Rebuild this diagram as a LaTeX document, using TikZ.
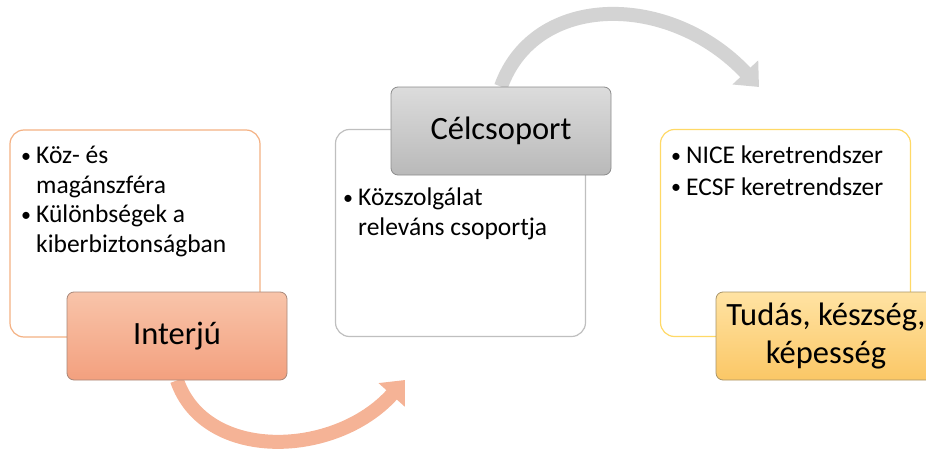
\documentclass[tikz,border=0pt]{standalone}
\usepackage{fontspec}
\setmainfont{Carlito}
\usepackage{xcolor}
\usepackage{tikz}
\usetikzlibrary{arrows.meta,positioning,backgrounds}

\definecolor{orangeline}{HTML}{F4B183}
\definecolor{grayline}{HTML}{BFBFBF}
\definecolor{yellowline}{HTML}{FFD966}
\definecolor{salmontop}{HTML}{F8C4AA}
\definecolor{salmonbot}{HTML}{F3A07E}
\definecolor{salmonedge}{HTML}{A8887A}
\definecolor{graytop}{HTML}{DCDCDC}
\definecolor{graybot}{HTML}{B9B9B9}
\definecolor{grayedge}{HTML}{8C8C8C}
\definecolor{goldtop}{HTML}{FFE3A3}
\definecolor{goldbot}{HTML}{FBC766}
\definecolor{goldedge}{HTML}{A89468}
\definecolor{orangearrow}{HTML}{F5B396}
\definecolor{grayarrow}{HTML}{D3D3D3}

\newcommand{\bul}{\makebox[16pt][l]{\hspace{1pt}\raisebox{1.5pt}{\fontsize{20}{20}\selectfont\textbullet}}}
\newcommand{\ind}{\hspace*{16pt}}

\begin{document}
\begin{tikzpicture}[x=1pt, y=-1pt,
  listbox/.style={draw, rounded corners=14pt, line width=1.2pt, fill=white,
    minimum width=250pt, minimum height=207pt, inner sep=0pt},
  titlebox/.style={rounded corners=7pt, line width=0.8pt, minimum width=220pt,
    minimum height=88pt, font=\fontsize{32.5}{38}\selectfont, align=center},
  listtext/.style={anchor=north west, inner sep=0pt, align=left,
    font=\fontsize{25.5}{29.5}\selectfont},
  bigarrow/.style={line width=14pt, -{Triangle[width=34pt,length=20pt]}}
]
\useasboundingbox (0,0) rectangle (926,452);
\clip (0,0) rectangle (926,452);

% Content boxes
\node[listbox, draw=orangeline] (interviewbox) at (135,233.5) {};
\node[listbox, draw=grayline] (groupbox) at (460.5,233) {};
\node[listbox, draw=yellowline] (skillbox) at (785.5,233) {};

% Bullet lists
\node[listtext] (interviewtext) at (20,146) {\bul Köz- és\\ \ind magánszféra\\ \bul Különbségek a\\ \ind kiberbiztonságban};
\node[listtext] (grouptext) at (342,188) {\bul Közszolgálat\\ \ind releváns csoportja};
\node[listtext] (skilltext) at (670,146) {\bul NICE keretrendszer\\[2pt] \bul ECSF keretrendszer};

% Title boxes
\node[titlebox, draw=salmonedge, top color=salmontop, bottom color=salmonbot] (interview) at (177,336) {Interjú};
\node[titlebox, draw=grayedge, top color=graytop, bottom color=graybot] (group) at (501,131) {Célcsoport};
\node[titlebox, draw=goldedge, top color=goldtop, bottom color=goldbot] (skill) at (826,336) {Tudás, készség,\\ képesség};

% Curved arrows
\coordinate (groupin) at (405,380);
\coordinate (skillin) at (759,87);
\begin{scope}[on background layer]
\draw[bigarrow, orangearrow] (interview.south) .. controls (205,462) and (335,458) .. (groupin);
\draw[bigarrow, grayarrow] (group.north) .. controls (535,-8) and (670,-8) .. (skillin);
\end{scope}

\end{tikzpicture}
\end{document}
